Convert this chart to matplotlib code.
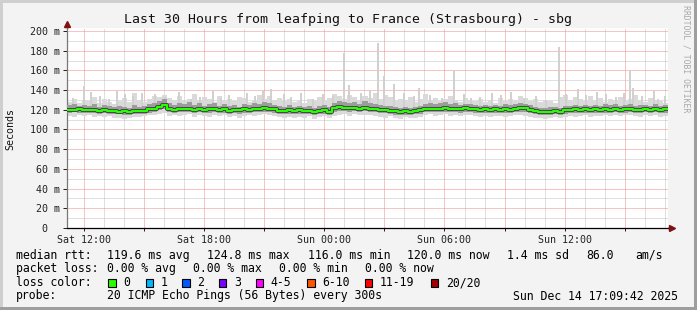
import numpy as np
import pandas as pd
import matplotlib
matplotlib.use("Agg")
import matplotlib.pyplot as plt
import matplotlib.dates as mdates
from matplotlib.patches import Rectangle
from matplotlib.ticker import FuncFormatter, MultipleLocator

# ---------------- data ----------------
title = "Last 30 Hours from leafping to France (Strasbourg) - sbg"
start_time = "2025-12-13 11:09:42"
step_minutes = 15

median = [
    120.2, 119.6, 120.4, 119.8, 119.3, 120, 119.1, 119.7, 119, 118.9,
    118.2, 118.7, 117.6, 118.5, 118.9, 119, 120.4, 120.5, 123.2, 125,
    120.8, 120.1, 121.1, 120.3, 121.2, 119.9, 120.8, 119.6, 120.6, 120.5,
    119.4, 120.3, 119.1, 120, 119.3, 120.5, 119.4, 121.2, 120.4, 121.5,
    120.6, 120.4, 119.2, 119.1, 119.7, 118.6, 119.4, 118.5, 119.1, 118.1,
    119, 119.3, 118, 121.7, 122.4, 121.5, 121.6, 121.7, 121.1, 122.2,
    121, 121, 120.2, 120, 119.2, 118.6, 117.8, 118.5, 117.7, 118.8,
    119.3, 121, 121, 120.8, 120.8, 121.6, 120.5, 121.2, 120.3, 121.4,
    120.4, 120.5, 119.6, 120.6, 119.4, 120.3, 119.7, 120.7, 120, 121.2,
    121.4, 121.4, 119.9, 118.9, 118.1, 118, 118, 118.8, 117.9, 119.7,
    119.6, 120.5, 119.5, 120.3, 119.4, 120.4, 119.8, 120.8, 119.9, 121,
    119.6, 120.6, 120.7, 120.1, 120.1, 120.7, 119.9, 120.9, 119.4, 120.6,
]
smoke_hi = [
    128, 131, 127, 130, 129, 133, 127, 131, 128, 126,
    129, 132, 128, 137, 130, 128, 131, 134, 133, 135,
    132, 130, 134, 129, 131, 136, 130, 133, 131, 128,
    134, 130, 131, 129, 133, 132, 128, 130, 135, 131,
    134, 130, 132, 129, 131, 128, 130, 127, 131, 129,
    133, 130, 132, 136, 134, 131, 135, 133, 130, 134,
    132, 137, 131, 135, 133, 129, 131, 130, 133, 128,
    131, 136, 130, 132, 129, 131, 134, 130, 128, 132,
    130, 129, 131, 128, 130, 127, 132, 129, 131, 130,
    134, 132, 129, 131, 128, 130, 129, 127, 133, 135,
    130, 133, 131, 129, 134, 130, 132, 128, 131, 130,
    133, 129, 131, 135, 130, 128, 132, 130, 129, 127,
]
smoke_lo = [
    114, 113, 115, 114, 115, 113, 114, 113, 114, 112,
    112, 111, 112, 113, 113, 114, 115, 115, 116, 117,
    114, 115, 114, 115, 116, 113, 115, 114, 113, 115,
    114, 115, 113, 114, 112, 114, 115, 114, 115, 116,
    115, 114, 113, 112, 113, 112, 113, 112, 114, 111,
    113, 114, 112, 114, 115, 116, 114, 116, 115, 115,
    115, 114, 113, 112, 114, 112, 111, 113, 112, 112,
    113, 115, 116, 114, 115, 116, 114, 115, 114, 115,
    115, 114, 113, 114, 113, 114, 114, 113, 114, 115,
    115, 114, 113, 112, 112, 111, 112, 113, 112, 113,
    114, 113, 114, 115, 113, 114, 114, 115, 114, 115,
    114, 115, 115, 114, 113, 115, 114, 115, 113, 114,
]
mid_hi = [
    125, 126, 124, 125, 124, 126, 123, 125, 124, 123,
    124, 123, 122, 125, 123, 124, 126, 127, 129, 131,
    127, 125, 127, 126, 128, 125, 127, 124, 126, 127,
    124, 126, 124, 125, 123, 126, 125, 127, 126, 128,
    127, 125, 124, 123, 125, 123, 124, 123, 124, 122,
    124, 125, 123, 127, 129, 128, 127, 128, 126, 129,
    127, 126, 125, 124, 124, 123, 122, 123, 122, 123,
    124, 126, 127, 126, 127, 128, 126, 127, 125, 126,
    126, 125, 124, 125, 124, 125, 124, 126, 125, 126,
    127, 126, 125, 123, 122, 122, 123, 123, 122, 124,
    124, 125, 124, 125, 124, 125, 124, 126, 125, 126,
    124, 125, 126, 124, 125, 125, 124, 126, 124, 125,
]
mid_lo = [
    117, 118, 117, 117, 117, 117, 116, 117, 116, 116,
    116, 115, 115, 116, 116, 116, 117, 118, 120, 121,
    118, 117, 118, 118, 118, 117, 118, 117, 117, 118,
    117, 117, 116, 117, 116, 117, 117, 118, 118, 118,
    118, 117, 116, 116, 116, 116, 116, 116, 116, 115,
    116, 116, 115, 118, 119, 119, 118, 119, 118, 119,
    118, 118, 117, 117, 116, 115, 115, 115, 115, 116,
    116, 118, 118, 118, 118, 118, 118, 118, 117, 118,
    118, 117, 117, 117, 117, 117, 117, 117, 117, 118,
    118, 118, 117, 116, 115, 115, 115, 116, 115, 116,
    117, 117, 117, 117, 117, 117, 117, 117, 117, 118,
    117, 117, 118, 117, 117, 118, 117, 118, 117, 117,
]
spike_hours = [0.87, 1.67, 2.92, 3.77, 6.67, 8.07, 8.97, 10.17, 10.82, 11.67,
               13.82, 14.07, 14.67, 15.52, 15.82, 16.32, 17.32, 17.57, 19.32, 20.17,
               21.67, 22.17, 24.57, 24.92, 25.52, 26.42, 28.07, 28.22, 29.27, 29.82,
               0.3, 1.2, 2.1, 2.5, 3.3, 4.4, 4.9, 5.6, 6.2, 7.3,
               7.7, 9.4, 9.8, 11.2, 12.3, 12.8, 13.3, 15.1, 16.8, 18.1,
               18.7, 19.8, 20.6, 21.2, 22.8, 23.4, 23.9, 25.9, 26.9, 27.4,
               27.8, 28.7, 29.5]
spike_tops = [144, 134, 136, 137, 133, 135, 137, 141, 136, 137,
              178, 145, 137, 188, 154, 146, 134, 142, 160, 132,
              135, 138, 184, 136, 141, 138, 160, 142, 139, 134,
              132, 138, 131, 139, 134, 136, 133, 138, 131, 140,
              132, 134, 139, 133, 131, 136, 134, 140, 137, 135,
              132, 136, 133, 137, 131, 134, 130, 135, 136, 133,
              137, 134, 131]

rtt_stats = ["119.6 ms avg", "124.8 ms max", "116.0 ms min", "120.0 ms now", "1.4 ms sd", "86.0", "am/s"]
loss_stats = ["0.00 % avg", "0.00 % max", "0.00 % min", "0.00 % now"]
loss_labels = ["0", "1", "2", "3", "4-5", "6-10", "11-19", "20/20"]
loss_colors = ["#26ff00", "#00b8ff", "#0059ff", "#7e00ff", "#ff00ff", "#ff5500", "#ff0000", "#a10000"]
probe_text = "20 ICMP Echo Pings (56 Bytes) every 300s"
stamp_text = "Sun Dec 14 17:09:42 2025"

# ---------------- layout ----------------
W, H = 697, 310
MONO = "DejaVu Sans Mono"
plt.rcParams["font.family"] = [MONO]

fig = plt.figure(figsize=(W / 100, H / 100), dpi=100)
fig.patch.set_facecolor("#F3F3F3")

def fx(x):
    return x / W

def fy(y):
    return 1 - y / H

# 3D frame
fig.add_artist(Rectangle((0, 0), 1, 3 / H, transform=fig.transFigure, color="#9E9E9E", lw=0))
fig.add_artist(Rectangle((1 - 3 / W, 0), 3 / W, 1, transform=fig.transFigure, color="#9E9E9E", lw=0))
fig.add_artist(Rectangle((0, 1 - 3 / H), 1 - 3 / W, 3 / H, transform=fig.transFigure, color="#CFCFCF", lw=0))
fig.add_artist(Rectangle((0, 3 / H), 3 / W, 1 - 6 / H, transform=fig.transFigure, color="#CFCFCF", lw=0))

ax = fig.add_axes([fx(66.7), fy(228), fx(668.3) - fx(66.7), fy(28) - fy(228)])
ax.set_facecolor("white")

t0 = pd.Timestamp(start_time)
n = len(median)
edges = pd.date_range(t0, periods=n + 1, freq=f"{step_minutes}min")
xe = mdates.date2num(edges.to_pydatetime())

def ext(a):
    a = np.asarray(a, dtype=float)
    return np.append(a, a[-1])

ax.fill_between(xe, ext(smoke_lo), ext(smoke_hi), step="post", color="#dadada", lw=0, zorder=2)
sx = mdates.date2num((t0 + pd.to_timedelta(np.array(spike_hours), unit="h")).to_pydatetime())
idx = np.clip(((np.array(spike_hours) * 60) // step_minutes).astype(int), 0, n - 1)
ax.vlines(sx, np.array(median)[idx], spike_tops, color="#d0d0d0", lw=1.4, zorder=2.5)
ax.fill_between(xe, ext(mid_lo), ext(mid_hi), step="post", color="#9c9c9c", lw=0, zorder=3)
ax.plot(xe, ext(median), drawstyle="steps-post", color="#404040", lw=2.8, zorder=4)
ax.plot(xe, ext(median), drawstyle="steps-post", color=loss_colors[0], lw=1.5, zorder=5)

ax.set_xlim(xe[0], xe[-1])
ax.set_ylim(0, 203)

# grid
ax.xaxis.set_major_locator(mdates.HourLocator(byhour=range(0, 24, 3)))
ax.xaxis.set_minor_locator(mdates.HourLocator())
ax.yaxis.set_major_locator(MultipleLocator(20))
ax.yaxis.set_minor_locator(MultipleLocator(10))

def xfmt(v, pos):
    d = mdates.num2date(v)
    return d.strftime("%a %H:%M") if d.hour % 6 == 0 else ""

def yfmt(v, pos):
    if v > 200.5:
        return ""
    return f"{int(round(v))} m" if v > 0 else "0  "

ax.xaxis.set_major_formatter(FuncFormatter(xfmt))
ax.yaxis.set_major_formatter(FuncFormatter(yfmt))
ax.grid(which="minor", color="#c0c0c0", ls=(0, (1, 1)), lw=0.72, zorder=1)
ax.grid(which="major", color="#f08a8a", ls=(0, (1, 1)), lw=0.72, zorder=1)
ax.set_axisbelow(True)

ax.tick_params(axis="both", which="major", labelsize=7.2, colors="#222222", length=3, width=0.72, pad=2)
ax.tick_params(axis="x", which="major", pad=3, length=2)
ax.tick_params(axis="both", which="minor", length=0)
for s in ["top", "right"]:
    ax.spines[s].set_visible(False)
ax.spines["left"].set_color("#777777")
ax.spines["bottom"].set_color("#000000")
ax.spines["left"].set_linewidth(0.9)
ax.spines["bottom"].set_linewidth(0.9)

# axis arrows
ax.plot([0, 0], [1, 1.015], transform=ax.transAxes, color="#777777", lw=0.9, clip_on=False)
ax.plot([1, 1.004], [0, 0], transform=ax.transAxes, color="#000000", lw=0.9, clip_on=False)
ax.plot([0], [1.02], marker="^", ms=4, color="#7f1010", transform=ax.transAxes, clip_on=False, zorder=10)
ax.plot([1.006], [0], marker=">", ms=4, color="#7f1010", transform=ax.transAxes, clip_on=False, zorder=10)

# texts
fig.text(fx(347.5), fy(19.5), title, ha="center", va="center", fontsize=9.5, color="#111111")
fig.text(fx(10), fy(129), "Seconds", rotation=90, ha="center", va="center", fontsize=7.2, color="#111111")
fig.text(fx(686), fy(59), "RRDTOOL / TOBI OETIKER", rotation=270, ha="center", va="center",
         fontsize=5.9, color="#a8a8a8")

LFS = 8.3
row_y = [255.3, 268.5, 282.7, 296]
fig.text(fx(16), fy(row_y[0]), "median rtt:", fontsize=LFS, va="center")
for s, x in zip(rtt_stats, [107.3, 207.3, 307.5, 407.3, 507.3, 586, 635]):
    fig.text(fx(x), fy(row_y[0]), s, fontsize=LFS, va="center")
fig.text(fx(16), fy(row_y[1]), "packet loss:", fontsize=LFS, va="center")
for s, x in zip(loss_stats, [107.3, 193.3, 279.3, 365]):
    fig.text(fx(x), fy(row_y[1]), s, fontsize=LFS, va="center")
fig.text(fx(16), fy(row_y[2]), "loss color:", fontsize=LFS, va="center")
box_x = [108.3, 145.7, 182.3, 219, 255.7, 307.3, 365, 430.7]
for lab, col, bx in zip(loss_labels, loss_colors, box_x):
    fig.add_artist(Rectangle((fx(bx), fy(286.5)), 7.3 / W, 7.5 / H, transform=fig.transFigure,
                             facecolor=col, edgecolor="black", lw=0.8))
    fig.text(fx(bx + 15), fy(row_y[2]), lab, fontsize=LFS, va="center")
fig.text(fx(16), fy(row_y[3]), "probe:", fontsize=LFS, va="center")
fig.text(fx(107.3), fy(row_y[3]), probe_text, fontsize=LFS, va="center")
fig.text(fx(513.3), fy(row_y[3]), stamp_text, fontsize=LFS, va="center")

fig.savefig("out.png", dpi=100, facecolor=fig.get_facecolor())
